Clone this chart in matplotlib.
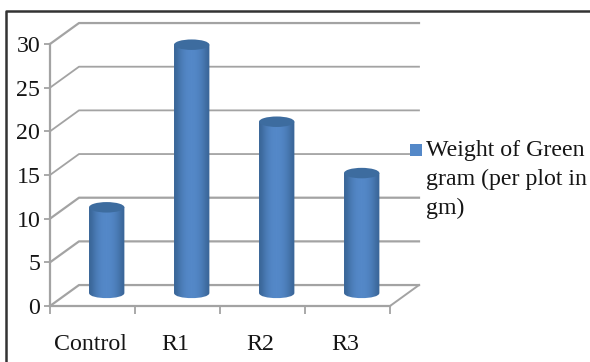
import numpy as np
import matplotlib
matplotlib.use("Agg")
import matplotlib.pyplot as plt
from matplotlib.lines import Line2D
from matplotlib.patches import Ellipse, PathPatch, Rectangle
from matplotlib.path import Path

categories = ["Control", "R1", "R2", "R3"]
weights = [10, 29, 20, 14]
y_ticks = [0, 5, 10, 15, 20, 25, 30]
legend_lines = ["Weight of Green", "gram (per plot in", "gm)"]

GRID = "#a3a3a3"
TEXT = "#151515"
BLUE_MID = "#5488c8"
BLUE_EDGE = "#3a6698"
BLUE_TOP = "#3d6c9f"

plt.rcParams["font.family"] = ["Liberation Serif", "DejaVu Serif"]
plt.rcParams["font.size"] = 17.2

W, H = 590, 362
fig = plt.figure(figsize=(W / 100, H / 100), dpi=100, facecolor="white")
# the axes box is the front plane of the 3D look
ax = fig.add_axes([50 / W, (H - 306) / H, 340 / W, 262 / H])
ax.patch.set_visible(False)

# depth of the walls, in data units
dx, dy = 0.341, 2.4

for v in y_ticks:
    lw = 1.6 if v in (0, 5, 10, 30) else 1.3
    ax.plot([0, dx, 4 + dx], [v, v + dy, v + dy], color=GRID, lw=lw, clip_on=False, zorder=1)
ax.plot([4, 4 + dx], [0, dy], color=GRID, lw=1.4, clip_on=False, zorder=1)

# cylinders stand half way into the floor
shade = np.array([0.0, 0.45, 0.75, 0.95, 1.0, 1.0, 0.9, 0.7, 0.4, 0.0])
cmap = matplotlib.colors.LinearSegmentedColormap.from_list("cyl", [BLUE_EDGE, BLUE_MID])
half_w, half_h = 0.208, 0.6
base = 1.5
persp = 0.98

for i, w in enumerate(weights):
    c = i + 0.5 + 0.167
    top = base + w * persp
    low = base - half_h * 1.33
    verts = [(c - half_w, top), (c - half_w, base),
             (c - half_w, low), (c + half_w, low),
             (c + half_w, base), (c + half_w, top), (c - half_w, top)]
    codes = [Path.MOVETO, Path.LINETO, Path.CURVE4, Path.CURVE4, Path.CURVE4,
             Path.LINETO, Path.CLOSEPOLY]
    body = PathPatch(Path(verts, codes), fc="none", ec="none", zorder=3, clip_on=False)
    ax.add_patch(body)
    im = ax.imshow(shade[np.newaxis, :], cmap=cmap, vmin=0, vmax=1, aspect="auto",
                   extent=[c - half_w, c + half_w, low, top], zorder=3,
                   interpolation="bicubic")
    im.set_clip_path(body)
    ax.add_patch(Ellipse((c, top), 2 * half_w, 2 * half_h, fc=BLUE_TOP, ec="none",
                         zorder=4, clip_on=False))

ax.set_xlim(0, 4)
ax.set_ylim(0, 30)

for name in ["top", "right"]:
    ax.spines[name].set_visible(False)
for name in ["left", "bottom"]:
    ax.spines[name].set_color(GRID)
    ax.spines[name].set_linewidth(1.6)

ax.set_xticks(range(5))
ax.set_xticklabels([])
ax.set_yticks(y_ticks)
ax.set_yticklabels(y_ticks, color=TEXT)
ax.tick_params(axis="y", length=4, width=1.3, color=GRID, pad=3)
ax.tick_params(axis="x", length=6, width=1.3, color=GRID)

for i, name in enumerate(categories):
    ax.text(i + 0.47, -4.4, name, ha="center", va="center", color=TEXT)

# legend drawn by hand, text is wrapped like the original
fig.add_artist(Rectangle((410 / W, (H - 156) / H), 12 / W, 12 / H, transform=fig.transFigure,
                         fc=BLUE_MID, ec="none"))
for line, ypx in zip(legend_lines, [150, 179, 208]):
    fig.text(426 / W, (H - ypx) / H, line, ha="left", va="center", color=TEXT)

# outer frame, only top and left show
fig.add_artist(Line2D([5.5 / W, 5.5 / W, 1], [0, (H - 11) / H, (H - 11) / H],
                      transform=fig.transFigure, color="#333333", lw=1.8))

fig.savefig("out.png", dpi=100, facecolor="white")
